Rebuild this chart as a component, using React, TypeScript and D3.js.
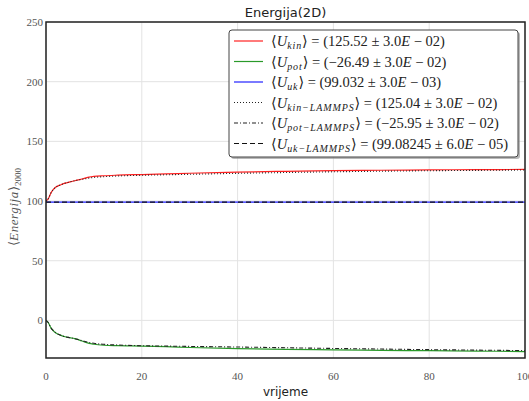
import React, { useEffect, useRef } from 'react';
import * as d3 from 'd3';

const WIDTH = 529;
const HEIGHT = 401;
const MARGIN = { top: 22, right: 4, bottom: 43, left: 46 };

const time = [0, 0.5, 1, 1.5, 2, 3, 4, 5, 6, 7, 8, 9, 10, 12, 15, 20, 25, 30, 40, 50, 60, 70, 80, 90, 100];
const uKin = [100, 102, 106.5, 109.5, 111.5, 113.5, 115, 116, 117, 118, 119, 120, 120.6, 121.2, 121.7, 122.2, 122.7, 123.3, 124.2, 124.9, 125.4, 125.8, 126.1, 126.3, 126.5];
const uKinL = [100, 102, 106.5, 109.5, 111.5, 113.5, 115, 116, 117, 117.8, 118.5, 119.2, 119.8, 120.4, 121, 121.6, 122, 122.4, 123.2, 123.9, 124.5, 125, 125.4, 125.7, 126];
const uPot = [0, -2, -6, -8.5, -10.3, -12.3, -13.7, -14.5, -15.3, -16.5, -18, -19.3, -20, -20.8, -21.2, -21.5, -22, -22.7, -23.6, -24.2, -24.7, -25.1, -25.4, -25.7, -26.1];
const uPotL = [0, -2, -6, -8.5, -10.3, -12.3, -13.7, -14.5, -15.3, -16.3, -17.5, -18.5, -19.2, -20, -20.6, -21.2, -21.5, -21.8, -22.3, -22.9, -23.5, -24, -24.5, -24.9, -25.3];
const uUk = time.map(() => 99.032);
const uUkL = time.map(() => 99.08);

const xTicks = [0, 20, 40, 60, 80, 100];
const yTicks = [0, 50, 100, 150, 200, 250];

const series = [
  { values: uKin, color: '#ff2020', dash: null, sub: 'kin', text: ' = (125.52 ± 3.0', exp: '02)' },
  { values: uPot, color: '#2a9a2a', dash: null, sub: 'pot', text: ' = (−26.49 ± 3.0', exp: '02)' },
  { values: uUk, color: '#2020ff', dash: null, sub: 'uk', text: ' = (99.032 ± 3.0', exp: '03)' },
  { values: uKinL, color: '#222', dash: '1,2', sub: 'kin−LAMMPS', text: ' = (125.04 ± 3.0', exp: '02)' },
  { values: uPotL, color: '#222', dash: '4,2,1,2', sub: 'pot−LAMMPS', text: ' = (−25.95 ± 3.0', exp: '02)' },
  { values: uUkL, color: '#111', dash: '5,3', sub: 'uk−LAMMPS', text: ' = (99.08245 ± 6.0', exp: '05)' },
];

const SERIF = '"Liberation Serif", "DejaVu Serif", serif';

const App = () => {
  const svgRef = useRef<SVGSVGElement>(null);

  useEffect(() => {
    const svg = d3.select(svgRef.current);
    svg.selectAll('*').remove();

    const x = d3.scaleLinear().domain([0, 100]).range([MARGIN.left, WIDTH - MARGIN.right]);
    const y = d3.scaleLinear().domain([-31.5, 250]).range([HEIGHT - MARGIN.bottom, MARGIN.top]);

    svg.append('rect').attr('width', WIDTH).attr('height', HEIGHT).attr('fill', '#fff');

    // grid
    const grid = svg.append('g').attr('stroke', '#e3e3e3').attr('stroke-width', 1);
    xTicks.forEach((t) => {
      grid.append('line').attr('x1', x(t)).attr('x2', x(t)).attr('y1', y.range()[0]).attr('y2', y.range()[1]);
    });
    yTicks.forEach((t) => {
      grid.append('line').attr('x1', x.range()[0]).attr('x2', x.range()[1]).attr('y1', y(t)).attr('y2', y(t));
    });

    const line = d3
      .line<number>()
      .x((d, i) => x(time[i]))
      .y((d) => y(d))
      .curve(d3.curveMonotoneX);

    const clip = svg.append('clipPath').attr('id', 'plotclip');
    clip
      .append('rect')
      .attr('x', MARGIN.left)
      .attr('y', MARGIN.top)
      .attr('width', WIDTH - MARGIN.left - MARGIN.right)
      .attr('height', HEIGHT - MARGIN.top - MARGIN.bottom);

    const plot = svg.append('g').attr('clip-path', 'url(#plotclip)');
    series.forEach((s) => {
      plot
        .append('path')
        .datum(s.values)
        .attr('d', line)
        .attr('fill', 'none')
        .attr('stroke', s.color)
        .attr('stroke-width', s.dash ? 1.1 : 1.2)
        .attr('stroke-dasharray', s.dash);
    });

    // frame
    svg
      .append('rect')
      .attr('x', MARGIN.left)
      .attr('y', MARGIN.top)
      .attr('width', WIDTH - MARGIN.left - MARGIN.right)
      .attr('height', HEIGHT - MARGIN.top - MARGIN.bottom)
      .attr('fill', 'none')
      .attr('stroke', '#222')
      .attr('stroke-width', 1.5);

    // tick labels
    svg
      .append('g')
      .selectAll('text')
      .data(xTicks)
      .join('text')
      .attr('x', (d) => x(d))
      .attr('y', HEIGHT - MARGIN.bottom + 22)
      .attr('text-anchor', 'middle')
      .attr('font-family', SERIF)
      .attr('font-size', 11)
      .attr('fill', '#555')
      .text((d) => d);

    svg
      .append('g')
      .selectAll('text')
      .data(yTicks)
      .join('text')
      .attr('x', MARGIN.left - 3)
      .attr('y', (d) => y(d) + 4)
      .attr('text-anchor', 'end')
      .attr('font-family', SERIF)
      .attr('font-size', 11)
      .attr('fill', '#555')
      .text((d) => d);

    // title and labels
    const cx = (MARGIN.left + WIDTH - MARGIN.right) / 2;
    svg
      .append('text')
      .attr('x', cx)
      .attr('y', 17)
      .attr('text-anchor', 'middle')
      .attr('font-family', '"DejaVu Sans", sans-serif')
      .attr('font-size', 13)
      .attr('fill', '#222')
      .text('Energija(2D)');

    svg
      .append('text')
      .attr('x', cx)
      .attr('y', 396)
      .attr('text-anchor', 'middle')
      .attr('font-family', '"DejaVu Sans", sans-serif')
      .attr('font-size', 12)
      .attr('fill', '#222')
      .text('vrijeme');

    const yl = svg
      .append('text')
      .attr('transform', 'translate(18,207) rotate(-90)')
      .attr('text-anchor', 'middle')
      .attr('font-family', SERIF)
      .attr('font-size', 13)
      .attr('fill', '#555');
    yl.append('tspan').text('⟨');
    yl.append('tspan').attr('font-style', 'italic').attr('letter-spacing', 0.6).text('Energija');
    yl.append('tspan').text('⟩');
    yl.append('tspan').attr('font-size', 9).attr('dy', 3).text('2000');

    // legend
    const lx = 229;
    const ly = 30;
    const lw = 289;
    const lh = 127;
    svg
      .append('rect')
      .attr('x', lx + 2)
      .attr('y', ly + 2)
      .attr('width', lw)
      .attr('height', lh)
      .attr('rx', 3)
      .attr('fill', '#888')
      .attr('opacity', 0.6);
    svg
      .append('rect')
      .attr('x', lx)
      .attr('y', ly)
      .attr('width', lw)
      .attr('height', lh)
      .attr('rx', 3)
      .attr('fill', '#fff')
      .attr('stroke', '#444')
      .attr('stroke-width', 1);

    series.forEach((s, i) => {
      const ry = ly + 11 + i * 20.5;
      svg
        .append('line')
        .attr('x1', lx + 5)
        .attr('x2', lx + 34)
        .attr('y1', ry)
        .attr('y2', ry)
        .attr('stroke', s.color)
        .attr('stroke-width', 1.2)
        .attr('stroke-dasharray', s.dash);
      const t = svg
        .append('text')
        .attr('x', lx + 42)
        .attr('y', ry + 5)
        .attr('font-family', SERIF)
        .attr('font-size', 14.5)
        .attr('fill', '#222');
      t.append('tspan').text('⟨');
      t.append('tspan').attr('font-style', 'italic').text('U');
      t.append('tspan')
        .attr('font-style', 'italic')
        .attr('font-size', 10)
        .attr('letter-spacing', 0.9)
        .attr('dy', 3)
        .text(s.sub);
      t.append('tspan').attr('dy', -3).text('⟩' + s.text);
      t.append('tspan').attr('font-style', 'italic').text('E');
      t.append('tspan').text(' − ' + s.exp);
    });
  }, []);

  return (
    <div>
      <svg ref={svgRef} width={WIDTH} height={HEIGHT} style={{ display: 'block', position: 'absolute', left: 0, top: 0 }}></svg>
    </div>
  );
};

export default App;
